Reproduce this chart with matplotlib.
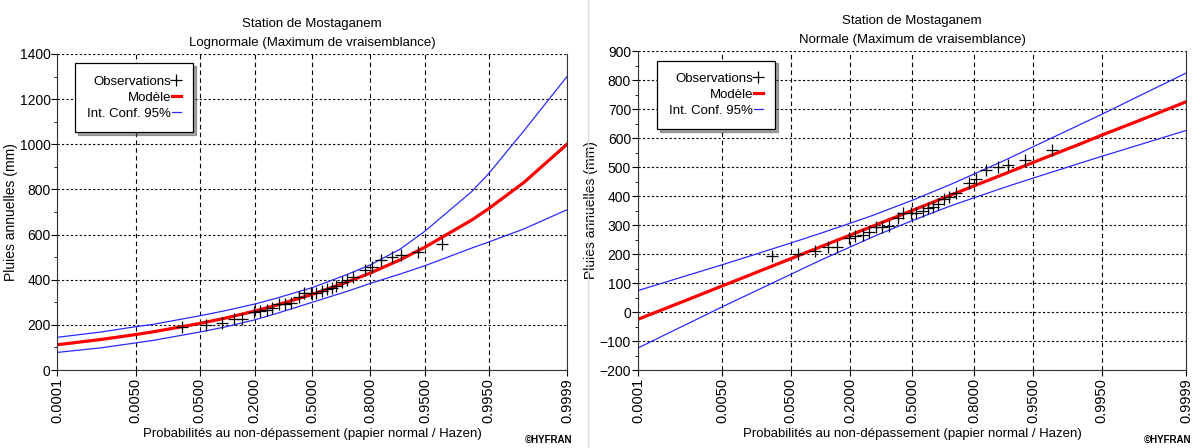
import matplotlib.pyplot as plt
import numpy as np
from statistics import NormalDist
from matplotlib.lines import Line2D
from matplotlib.ticker import MultipleLocator

plt.rcParams['font.family'] = ['Liberation Sans', 'DejaVu Sans']

TICK_PROBS = [0.0001, 0.005, 0.05, 0.2, 0.5, 0.8, 0.95, 0.995, 0.9999]
TICK_LABELS = ['0.0001', '0.0050', '0.0500', '0.2000', '0.5000',
               '0.8000', '0.9500', '0.9950', '0.9999']

# annual rainfall observations (mm), sorted, with their plotted probabilities
observations = [192, 199, 210, 224, 224, 256, 261, 264, 276, 292,
                294, 297, 323, 340, 340, 342, 348, 357, 363, 374,
                388, 398, 412, 444, 458, 488, 500, 508, 523, 557]
obs_prob = [0.029, 0.061, 0.094, 0.128, 0.154, 0.196, 0.221, 0.253, 0.279, 0.312,
            0.343, 0.376, 0.423, 0.453, 0.494, 0.520, 0.557, 0.587, 0.614, 0.638,
            0.666, 0.694, 0.726, 0.779, 0.808, 0.842, 0.877, 0.903, 0.938, 0.971]

# probabilities where fitted curves were read
curve_probs = [0.0001, 0.001, 0.005, 0.01, 0.05, 0.1, 0.2, 0.3, 0.5,
               0.7, 0.8, 0.9, 0.95, 0.99, 0.995, 0.999, 0.9999]

logn_model = [112, 135, 157, 169, 206, 229, 261, 287, 335,
              391, 429, 488, 544, 664, 715, 831, 1000]
logn_upper = [145, 168, 192, 202, 240, 262, 292, 318, 365,
              425, 465, 535, 615, 790, 870, 1060, 1300]
logn_lower = [78, 98, 120, 131, 168, 190, 222, 250, 300,
              350, 383, 425, 462, 540, 567, 625, 710]

norm_model = [-25, 38, 90, 115, 184, 221, 265, 297, 350,
              403, 435, 479, 516, 584, 610, 661, 725]
norm_upper = [74, 123, 163, 183, 238, 268, 306, 334, 385,
              440, 476, 526, 570, 652, 682, 746, 824]
norm_lower = [-124, -46, 18, 48, 130, 174, 224, 260, 315,
              366, 394, 432, 462, 517, 537, 577, 626]

nd = NormalDist()


def to_z(p):
    return np.array([nd.inv_cdf(v) for v in p])


fig = plt.figure(figsize=(12, 4.48), dpi=100)
ax1 = fig.add_axes([0.0479, 0.1741, 0.4246, 0.7054])
ax2 = fig.add_axes([0.5317, 0.1741, 0.4567, 0.712])

panels = [
    (ax1, 'Lognormale (Maximum de vraisemblance)', logn_model, logn_upper,
     logn_lower, (0, 1400), 200, 100, 0.477),
    (ax2, 'Normale (Maximum de vraisemblance)', norm_model, norm_upper,
     norm_lower, (-200, 900), 100, 50, 0.993),
]

blue = '#2a2aff'
for ax, subtitle, model, upper, lower, ylim, major, minor, credit_x in panels:
    zc = to_z(curve_probs)
    ax.plot(zc, upper, color=blue, lw=0.9, label='Int. Conf. 95%')
    ax.plot(zc, lower, color=blue, lw=0.9)
    ax.plot(zc, model, color='#ff0000', lw=2.3, label='Modèle')
    ax.plot(to_z(obs_prob), observations, ls='none', marker='+', ms=8,
            mew=0.9, color='black', label='Observations')

    ax.set_xlim(to_z([TICK_PROBS[0]])[0], to_z([TICK_PROBS[-1]])[0])
    ax.set_ylim(*ylim)
    ax.set_xticks(to_z(TICK_PROBS))
    ax.set_xticklabels(TICK_LABELS, rotation=90, fontsize=10.5)
    ax.yaxis.set_major_locator(MultipleLocator(major))
    ax.yaxis.set_minor_locator(MultipleLocator(minor))
    ax.tick_params(axis='y', labelsize=10, length=4, pad=1)
    ax.tick_params(axis='y', which='minor', length=2)
    ax.tick_params(axis='x', length=4, pad=2)
    ax.xaxis.grid(True, color='black', ls=(0, (4, 3)), lw=0.8)
    ax.yaxis.grid(True, color='black', ls=(0, (2, 2)), lw=0.8)
    for side in ['left', 'bottom', 'right']:
        ax.spines[side].set_color('#333333')
    ax.spines['top'].set_visible(False)

    ax.set_title('Station de Mostaganem\n' + subtitle, fontsize=9.5,
                 linespacing=1.7, pad=6)
    ax.set_ylabel('Pluies annuelles (mm)', fontsize=10, labelpad=1)
    ax.set_xlabel('Probabilités au non-dépassement (papier normal / Hazen)',
                  fontsize=9.5, labelpad=3)
    fig.text(credit_x, 0.008, '©HYFRAN', ha='right', va='bottom',
             fontsize=7, fontweight='bold')

    handles, labels = ax.get_legend_handles_labels()
    order = [2, 1, 0]
    leg = ax.legend([handles[i] for i in order], [labels[i] for i in order],
                    loc='upper left', bbox_to_anchor=(0.035, 0.97),
                    markerfirst=False, handlelength=0.7, handletextpad=0.05,
                    borderpad=0.9, labelspacing=0.3, fontsize=9.5,
                    fancybox=False, shadow=True, framealpha=1,
                    edgecolor='black', borderaxespad=0)
    leg.get_frame().set_linewidth(0.9)

fig.add_artist(Line2D([0.49, 0.49], [0.0, 1.0], color='#dddddd', lw=1))

fig.savefig('out.png', dpi=100)
